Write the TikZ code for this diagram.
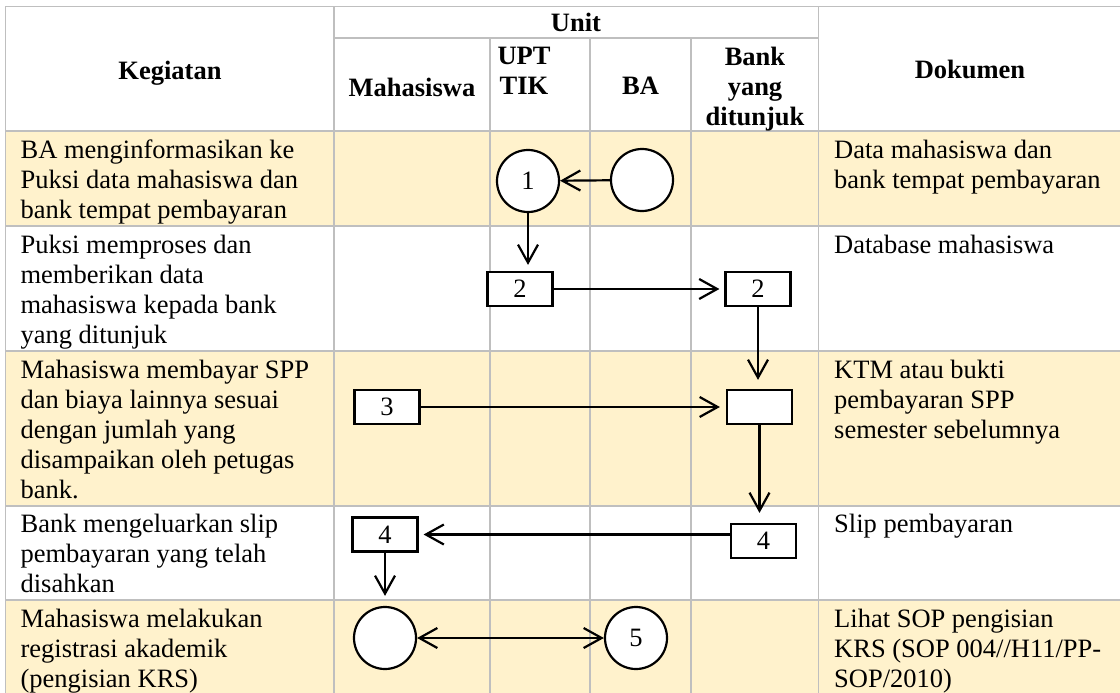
\documentclass[tikz,border=0pt]{standalone}
\usepackage{fontspec}
\setmainfont{Liberation Serif}
\usetikzlibrary{arrows.meta}
\definecolor{rowyellow}{HTML}{FFF2CC}
\definecolor{gridgray}{HTML}{BFBFBF}

\begin{document}
\begin{tikzpicture}[x=1pt, y=-1pt,
    font=\fontsize{26.5}{30}\selectfont,
    >={Straight Barb[length=18pt,width=20pt]},
    grid/.style={draw=gridgray, line width=1.7pt},
    head/.style={font=\fontsize{26.5}{30}\selectfont\bfseries, inner sep=0pt},
    txt/.style={anchor=north west, align=left, inner sep=0pt},
    box/.style={draw, fill=white, line width=2.2pt, minimum width=65pt, minimum height=34pt, inner sep=0pt},
    circ/.style={draw, fill=white, circle, line width=2.2pt, minimum size=62pt, inner sep=0pt},
    arr/.style={->, line width=2.2pt}]
    \useasboundingbox (0,0) rectangle (1120,693);
    \clip (0,0) rectangle (1120,693);

    % 行底色
    \fill[rowyellow] (5.4,131) rectangle (1121,226);
    \fill[rowyellow] (5.4,351) rectangle (1121,505.7);
    \fill[rowyellow] (5.4,600) rectangle (1121,700);

    % 表格线
    \foreach \y in {6.4,131,226,351,505.7,600}
        \draw[grid] (5.4,\y) -- (1121,\y);
    \draw[grid] (334,37.7) -- (818.6,37.7);
    \foreach \x in {5.4,334,818.6}
        \draw[grid] (\x,6.4) -- (\x,700);
    \foreach \x in {490,590,691}
        \draw[grid] (\x,37.7) -- (\x,700);

    % 表头
    \node[head, anchor=base] (hkeg) at (170,80) {Kegiatan};
    \node[head, anchor=base] (hunit) at (576,31.5) {Unit};
    \node[head, anchor=base] (hmhs) at (412,96) {Mahasiswa};
    \node[head, anchor=north, align=center] (hupt) at (524,47) {UPT\\TIK};
    \node[head, anchor=base] (hba) at (640.5,95) {BA};
    \node[head, anchor=north, align=center] (hbank) at (755,47) {Bank\\yang\\ditunjuk};
    \node[head, anchor=base] (hdok) at (970,79) {Dokumen};

    % kegiatan
    \node[txt] (k1) at (20.4,139.5) {BA menginformasikan ke\\Puksi data mahasiswa dan\\bank tempat pembayaran};
    \node[txt] (k2) at (20.4,234.5) {Puksi memproses dan\\memberikan data\\mahasiswa kepada bank\\yang ditunjuk};
    \node[txt] (k3) at (20.4,359.5) {Mahasiswa membayar SPP\\dan biaya lainnya sesuai\\dengan jumlah yang\\disampaikan oleh petugas\\bank.};
    \node[txt] (k4) at (20.4,514.2) {Bank mengeluarkan slip\\pembayaran yang telah\\disahkan};
    \node[txt] (k5) at (20.4,608.5) {Mahasiswa melakukan\\registrasi akademik\\(pengisian KRS)};

    % dokumen
    \node[txt] (d1) at (834,139.5) {Data mahasiswa dan\\bank tempat pembayaran};
    \node[txt] (d2) at (834,234.5) {Database mahasiswa};
    \node[txt] (d3) at (834,359.5) {KTM atau bukti\\pembayaran SPP\\semester sebelumnya};
    \node[txt] (d4) at (834,514.2) {Slip pembayaran};
    \node[txt] (d5) at (834,608.5) {Lihat SOP pengisian\\KRS (SOP 004//H11/PP-\\SOP/2010)};

    % 流程符号
    \node[circ] (c1) at (528,181) {1};
    \node[circ] (cba) at (642,180) {};
    \node[box] (b2u) at (520,289) {2};
    \node[box] (b2b) at (758,289) {2};
    \node[box] (b3) at (387,407) {3};
    \node[box] (bbank) at (759.5,407) {};
    \node[box] (b4b) at (763.5,541) {4};
    \node[box] (b4m) at (385,534.5) {4};
    \node[circ] (cm) at (385,638) {};
    \node[circ] (c5) at (636,638) {5};

    % 箭头
    \draw[arr] (cba) -- (c1);
    \draw[arr, shorten >=6pt] (c1) -- (c1 |- b2u.north);
    \draw[arr, shorten >=5pt] (b2u) -- (b2b);
    \draw[arr, shorten >=9pt] (b2b) -- (b2b |- bbank.north);
    \draw[arr, shorten >=6pt] (b3) -- (bbank);
    \draw[arr, shorten >=10pt] (bbank) -- (bbank |- b4b.north);
    \draw[arr, shorten >=5pt] (b4b.west |- b4m) -- (b4m);
    \draw[arr, shorten >=10pt] (b4m) -- (cm);
    \draw[arr, <->] (cm) -- (c5);
\end{tikzpicture}
\end{document}
